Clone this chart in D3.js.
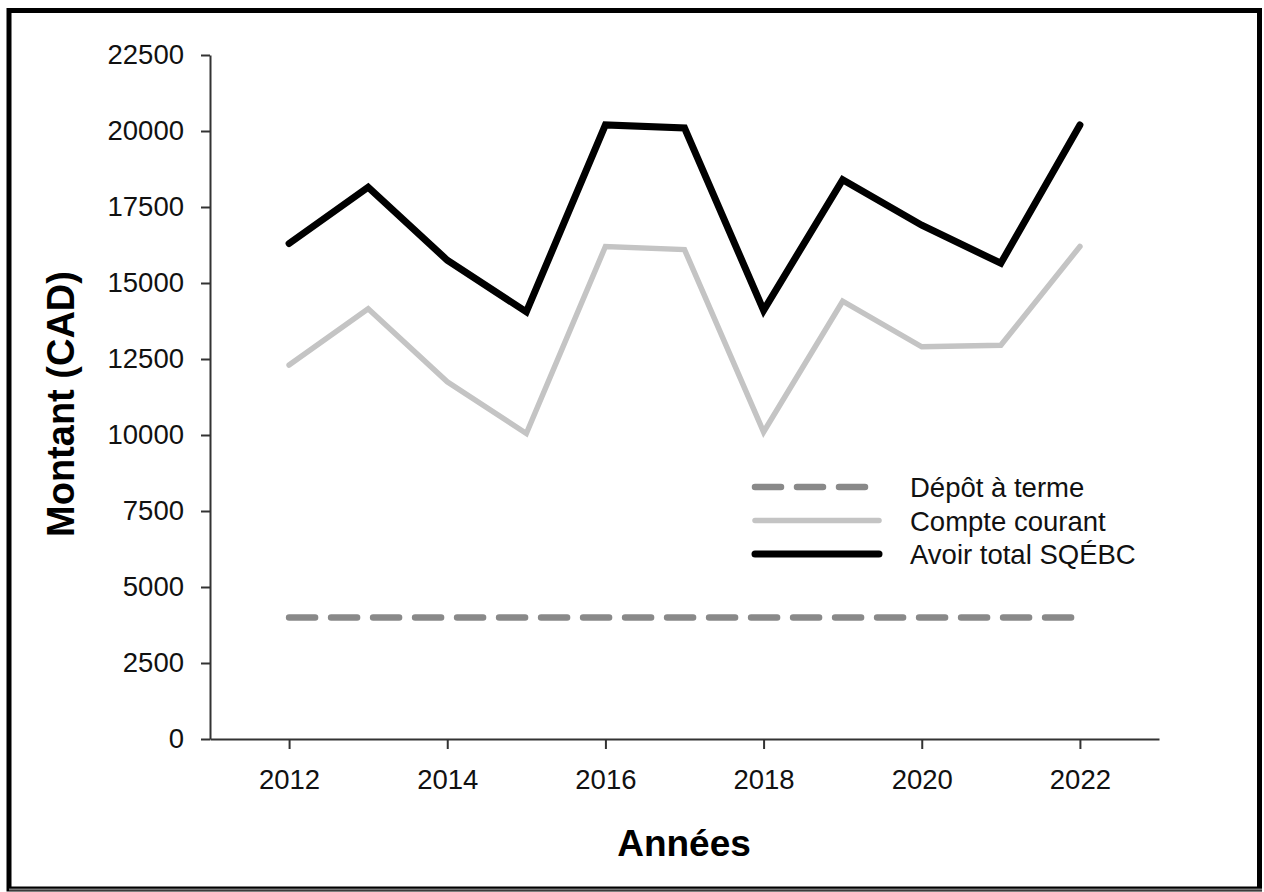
<!DOCTYPE html>
<html>
<head>
<meta charset="utf-8">
<script src="https://cdn.jsdelivr.net/npm/d3@7"></script>
<style>
  body { margin: 0; background: #fff; }
  svg { display: block; font-family: "Liberation Sans", Arial, sans-serif; }
</style>
</head>
<body>
<div id="canvas"></div>
<script>
const years = [2012, 2013, 2014, 2015, 2016, 2017, 2018, 2019, 2020, 2021, 2022];
const depotTerme = [4000, 4000, 4000, 4000, 4000, 4000, 4000, 4000, 4000, 4000, 4000];
const compteCourant = [12300, 14150, 11750, 10050, 16200, 16100, 10100, 14400, 12900, 12950, 16200];
const avoirTotal = [16300, 18150, 15750, 14050, 20200, 20100, 14100, 18400, 16900, 15650, 20200];
const yTicks = [0, 2500, 5000, 7500, 10000, 12500, 15000, 17500, 20000, 22500];
const xTicks = [2012, 2014, 2016, 2018, 2020, 2022];

const W = 1264, H = 892;
const MARGIN = { LEFT: 210, RIGHT: 105, TOP: 55, BOTTOM: 153 };
const WIDTH = W - MARGIN.LEFT - MARGIN.RIGHT;
const HEIGHT = H - MARGIN.TOP - MARGIN.BOTTOM;

const svg = d3.select('#canvas').append('svg')
  .attr('width', W)
  .attr('height', H);

// frame
svg.append('rect')
  .attr('x', 9).attr('y', 10.5)
  .attr('width', 1250.5).attr('height', 878.5)
  .attr('fill', 'none')
  .attr('stroke', '#000')
  .attr('stroke-width', 5);
svg.append('line')
  .attr('x1', 9).attr('x2', 1262)
  .attr('y1', 889.5).attr('y2', 889.5)
  .attr('stroke', '#777').attr('stroke-width', 2);

const g = svg.append('g')
  .attr('transform', `translate(${MARGIN.LEFT}, ${MARGIN.TOP})`);

const x = d3.scaleLinear().domain([2011, 2023]).range([0, WIDTH]);
const y = d3.scaleLinear().domain([0, 22500]).range([HEIGHT, 0]);

const xAxis = g.append('g')
  .attr('transform', `translate(0, ${HEIGHT})`)
  .call(d3.axisBottom(x).tickValues(xTicks).tickFormat(d3.format('d'))
    .tickSize(10).tickSizeOuter(0).tickPadding(20));

const yAxis = g.append('g')
  .call(d3.axisLeft(y).tickValues(yTicks).tickFormat(d3.format('d'))
    .tickSize(9).tickSizeOuter(0).tickPadding(17));

[xAxis, yAxis].forEach(a => {
  a.select('.domain').attr('stroke', '#333').attr('stroke-width', 2);
  a.selectAll('.tick line').attr('stroke', '#333').attr('stroke-width', 2);
  a.selectAll('.tick text')
    .attr('fill', '#111')
    .style('font-size', '27.5px')
    .style('font-family', '"Liberation Sans", Arial, sans-serif');
});

const series = [
  { name: 'Dépôt à terme', values: depotTerme, color: '#898989', width: 6.5, dash: '26,16' },
  { name: 'Compte courant', values: compteCourant, color: '#c4c4c4', width: 5.5, dash: null },
  { name: 'Avoir total SQÉBC', values: avoirTotal, color: '#000', width: 7, dash: null }
];

const line = d3.line()
  .x((d, i) => x(years[i]))
  .y(d => y(d));

series.forEach(s => {
  g.append('path')
    .datum(s.values)
    .attr('d', line)
    .attr('fill', 'none')
    .attr('stroke', s.color)
    .attr('stroke-width', s.width)
    .attr('stroke-linecap', 'round')
    .attr('stroke-dasharray', s.dash);
});

// legend
const legend = svg.append('g').attr('transform', 'translate(752, 487)');
series.forEach((s, i) => {
  const row = legend.append('g').attr('transform', `translate(0, ${i * 33.5})`);
  row.append('line')
    .attr('x1', 3).attr('x2', 127)
    .attr('stroke', s.color)
    .attr('stroke-width', s.width)
    .attr('stroke-linecap', 'round')
    .attr('stroke-dasharray', s.dash);
  row.append('text')
    .attr('x', 158).attr('y', 10)
    .attr('fill', '#111')
    .style('font-size', '27.5px')
    .text(s.name);
});

// axis titles
svg.append('text')
  .attr('x', 684).attr('y', 856)
  .attr('text-anchor', 'middle')
  .style('font-size', '37px')
  .style('font-weight', 'bold')
  .text('Années');

svg.append('text')
  .attr('transform', 'translate(74, 404) rotate(-90)')
  .attr('text-anchor', 'middle')
  .style('font-size', '38px')
  .style('font-weight', 'bold')
  .text('Montant (CAD)');
</script>
</body>
</html>
